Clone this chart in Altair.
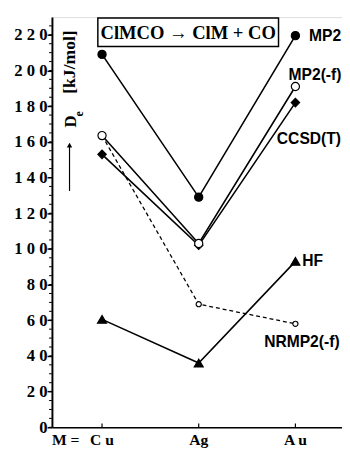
import altair as alt
import pandas as pd

# ---- data ----
metals = ["Cu", "Ag", "Au"]
metal_labels = ["C u", "Ag", "A u"]
mp2 = [209, 129, 219.5]
mp2_f = [163.5, 103, 191]
ccsd_t = [153, 102, 182]
hf = [60.5, 36, 93]
nrmp2_f = [163.5, 69, 58]
y_major = [0, 20, 40, 60, 80, 100, 120, 140, 160, 180, 200, 220]
y_minor = list(range(0, 230, 5))

series = {
    "MP2": mp2,
    "MP2(-f)": mp2_f,
    "CCSD(T)": ccsd_t,
    "HF": hf,
    "NRMP2(-f)": nrmp2_f,
}

rows = []
for name, vals in series.items():
    for i, v in enumerate(vals):
        rows.append({"series": name, "xi": i, "v": v, "metal": metals[i]})
df = pd.DataFrame(rows)

W, H = 297, 420

X = alt.X("xi:Q", scale=alt.Scale(domain=[-0.518, 2.482], nice=False, zero=False),
          axis=alt.Axis(title=None, labels=False, ticks=False, grid=False,
                        domainWidth=1.6, domainColor="black"))
Y = alt.Y("v:Q", scale=alt.Scale(domain=[0, 229.9], nice=False, zero=True),
          axis=alt.Axis(title=None, values=y_major, grid=False, tickSize=5, tickWidth=1.5,
                        tickColor="black", domainWidth=2, domainColor="black",
                        labelFont="Liberation Serif", labelFontWeight="bold", labelFontSize=17,
                        labelColor="black", labelPadding=0,
                        labelExpr="join(split(datum.label, ''), ' ')"))

solid = df[df.series != "NRMP2(-f)"]
dashed = df[df.series == "NRMP2(-f)"]

lines_solid = alt.Chart(solid).mark_line(color="black", strokeWidth=1.6).encode(
    x=X, y=Y, detail="series:N", order="xi:Q")
lines_dashed = alt.Chart(dashed).mark_line(color="black", strokeWidth=1.3, strokeDash=[4, 3]).encode(
    x=X, y=Y, order="xi:Q")

def pts(name, shape, size, filled, idx=(0, 1, 2)):
    d = df[(df.series == name) & (df.xi.isin(idx))]
    return alt.Chart(d).mark_point(
        shape=shape, size=size, filled=True,
        fill="black" if filled else "white", stroke="black",
        strokeWidth=1.2, opacity=1).encode(x=X, y=Y)

p_ccsd = pts("CCSD(T)", "diamond", 75, True)
p_hf = pts("HF", "triangle-up", 85, True)
p_mp2 = pts("MP2", "circle", 70, True)
p_nr = pts("NRMP2(-f)", "circle", 28, False, idx=(1, 2))
p_mp2f = pts("MP2(-f)", "circle", 70, False)

# minor ticks on the y axis
minor = alt.Chart(pd.DataFrame({"v": y_minor})).mark_rule(color="black", strokeWidth=1).encode(
    y=Y, x=alt.value(-3), x2=alt.value(0))

# inward ticks on the x axis
xt = pd.DataFrame({"xi": [0, 1, 2], "lab": metal_labels})
xticks = alt.Chart(xt).mark_rule(color="black", strokeWidth=1.2).encode(
    x=X, y=alt.value(H - 4), y2=alt.value(H))
xlabels = alt.Chart(xt).mark_text(font="Liberation Serif", fontWeight="bold", fontSize=16,
                                  baseline="middle", color="black").encode(
    x=X, y=alt.value(H + 13), text="lab:N")
m_label = alt.Chart(pd.DataFrame({"t": ["M ="]})).mark_text(
    font="Liberation Serif", fontWeight="bold", fontSize=16, align="left",
    baseline="middle", color="black").encode(x=alt.value(0), y=alt.value(H + 13), text="t:N")

# series labels anchored at the Au point
label_specs = [
    ("MP2", 14, 0, "left"),
    ("MP2(-f)", -7, -12, "left"),
    ("CCSD(T)", -19, 37, "left"),
    ("HF", 7, 0, "left"),
    ("NRMP2(-f)", -32, 19, "left"),
]
label_layers = []
for name, dx, dy, al in label_specs:
    d = df[(df.series == name) & (df.xi == 2)].assign(lab=name)
    label_layers.append(alt.Chart(d).mark_text(
        font="Liberation Sans", fontWeight="bold", fontSize=16, align=al,
        baseline="middle", dx=dx, dy=dy, color="black").encode(x=X, y=Y, text="lab:N"))

# reaction box
one = pd.DataFrame({"t": ["ClMCO  \u2192  ClM + CO"]})
box = alt.Chart(one).mark_rect(fill="white", stroke="black", strokeWidth=1.5).encode(
    x=alt.value(47), x2=alt.value(232), y=alt.value(1), y2=alt.value(30))
box_text = alt.Chart(one).mark_text(font="Liberation Serif", fontWeight="bold", fontSize=19,
                                    baseline="middle", color="black").encode(
    x=alt.value(139.5), y=alt.value(16), text="t:N")

# y-axis title pieces
unit = alt.Chart(pd.DataFrame({"t": ["[kJ/mol]"]})).mark_text(
    font="Liberation Serif", fontWeight="bold", fontSize=18, angle=270,
    baseline="middle", color="black").encode(x=alt.value(19), y=alt.value(46), text="t:N")
dsym = alt.Chart(pd.DataFrame({"t": ["D"]})).mark_text(
    font="Liberation Serif", fontWeight="bold", fontSize=17, angle=270,
    baseline="middle", color="black").encode(x=alt.value(20), y=alt.value(107), text="t:N")
esym = alt.Chart(pd.DataFrame({"t": ["e"]})).mark_text(
    font="Liberation Serif", fontWeight="bold", fontSize=12, angle=270,
    baseline="middle", color="black").encode(x=alt.value(28), y=alt.value(99), text="t:N")
arrow_line = alt.Chart(pd.DataFrame({"t": [0]})).mark_rule(color="black", strokeWidth=1.2).encode(
    x=alt.value(18), y=alt.value(132), y2=alt.value(178))
arrow_head = alt.Chart(pd.DataFrame({"t": [0]})).mark_point(
    shape="triangle-up", size=30, filled=True, color="black", opacity=1).encode(
    x=alt.value(18), y=alt.value(131))

chart = alt.layer(
    lines_solid, lines_dashed, minor, xticks,
    p_ccsd, p_hf, p_mp2, p_nr, p_mp2f,
    *label_layers, box, box_text, xlabels, m_label,
    unit, dsym, esym, arrow_line, arrow_head,
).properties(
    width=W, height=H,
    autosize=alt.AutoSizeParams(type="none"),
    padding={"left": 45, "top": 4, "right": 0, "bottom": 22},
).configure_view(stroke=None).configure(background="white")

chart.save("out.html", embed_options={"renderer": "svg", "actions": False})
